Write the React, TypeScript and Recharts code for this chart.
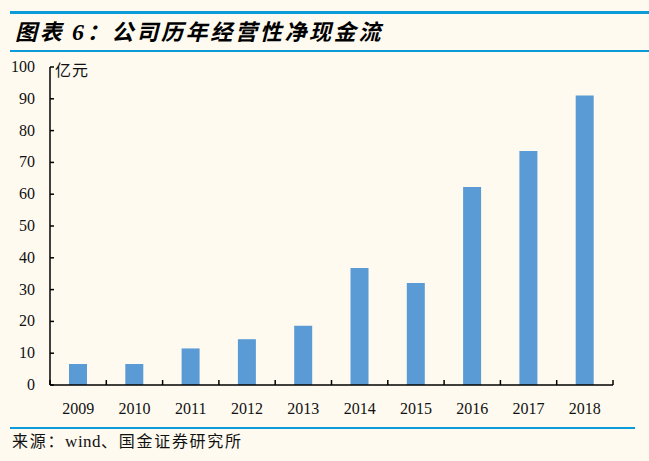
import React from "react";
import { BarChart, Bar, XAxis, YAxis } from "recharts";

const years = ["2009", "2010", "2011", "2012", "2013", "2014", "2015", "2016", "2017", "2018"];
const cashFlow = [6.6, 6.6, 11.5, 14.4, 18.6, 36.8, 32.1, 62.3, 73.6, 91.0];
const yTicks = [0, 10, 20, 30, 40, 50, 60, 70, 80, 90, 100];

const data = years.map((y, i) => ({ year: y, value: cashFlow[i] }));

const W = 649;
const H = 461;
const PLOT_LEFT = 50;
const PLOT_RIGHT = 613;
const PLOT_TOP = 67;
const PLOT_BOTTOM = 385;
const Y_AXIS_W = 40;
const X_AXIS_H = 30;
const BAND = (PLOT_RIGHT - PLOT_LEFT) / years.length;

const serif = "'Liberation Serif', 'Times New Roman', serif";
const cjk = "'Liberation Serif', 'Noto Sans CJK SC', serif";
const BG = "#FEFAF0";
const LINE = "#0A9BD8";

const XTick = (props: any) => {
  const { x, payload, index } = props;
  const axisY = PLOT_BOTTOM;
  const left = x - BAND / 2;
  const right = x + BAND / 2;
  return (
    <g>
      <line x1={left} x2={left} y1={axisY} y2={axisY - 5} stroke="#000" strokeWidth={1.5} />
      {index === years.length - 1 && (
        <line x1={right} x2={right} y1={axisY} y2={axisY - 5} stroke="#000" strokeWidth={1.5} />
      )}
      <text x={x} y={axisY + 29} textAnchor="middle" fontFamily={serif} fontSize={16} fill="#111">
        {payload.value}
      </text>
    </g>
  );
};

const YTick = (props: any) => {
  const { y, payload } = props;
  return (
    <g>
      <line x1={PLOT_LEFT} x2={PLOT_LEFT + 4} y1={y} y2={y} stroke="#000" strokeWidth={1.5} />
      <text x={PLOT_LEFT - 15} y={y + 5} textAnchor="end" fontFamily={serif} fontSize={16} fill="#111">
        {payload.value}
      </text>
    </g>
  );
};

export default function App() {
  return (
    <div
      style={{
        position: "absolute",
        left: 0,
        top: 0,
        width: W,
        height: H,
        background: BG,
        overflow: "hidden",
      }}
    >
      <div style={{ position: "absolute", left: 10, top: 11, width: W, height: 2.5, background: LINE }} />
      <div
        style={{
          position: "absolute",
          left: 15,
          top: 15,
          fontFamily: "'Noto Sans CJK SC', sans-serif",
          fontWeight: 700,
          fontStyle: "italic",
          fontSize: 22,
          letterSpacing: 2.7,
          lineHeight: "30px",
          color: "#000",
          whiteSpace: "nowrap",
        }}
      >
        图表 <span style={{ fontFamily: serif, fontSize: 24 }}>6</span>：公司历年经营性净现金流
      </div>
      <div style={{ position: "absolute", left: 10, top: 49.5, width: W, height: 2.5, background: LINE }} />

      <div style={{ position: "absolute", left: 0, top: 0 }}>
        <BarChart
          width={W}
          height={H}
          data={data}
          margin={{
            top: PLOT_TOP,
            bottom: H - PLOT_BOTTOM - X_AXIS_H,
            left: PLOT_LEFT - Y_AXIS_W,
            right: W - PLOT_RIGHT,
          }}
          barCategoryGap={19}
        >
          <XAxis
            dataKey="year"
            height={X_AXIS_H}
            axisLine={{ stroke: "#000", strokeWidth: 1.5 }}
            tickLine={false}
            tick={<XTick />}
            interval={0}
          />
          <YAxis
            width={Y_AXIS_W}
            domain={[0, 100]}
            ticks={yTicks}
            axisLine={{ stroke: "#000", strokeWidth: 1.5 }}
            tickLine={false}
            tick={<YTick />}
            interval={0}
          />
          <Bar dataKey="value" fill="#5B9BD5" isAnimationActive={false} />
        </BarChart>
      </div>

      <div
        style={{
          position: "absolute",
          left: 55,
          top: 57,
          fontFamily: cjk,
          fontSize: 16,
          letterSpacing: 1,
          color: "#111",
          whiteSpace: "nowrap",
        }}
      >
        亿元
      </div>

      <div style={{ position: "absolute", left: 10, top: 426.5, width: 625, height: 2.5, background: LINE }} />
      <div
        style={{
          position: "absolute",
          left: 12,
          top: 431,
          fontFamily: cjk,
          fontSize: 16,
          letterSpacing: 1.7,
          lineHeight: "22px",
          color: "#111",
          whiteSpace: "nowrap",
        }}
      >
        来源：<span style={{ fontSize: 17, letterSpacing: 0.5 }}>wind</span>、国金证券研究所
      </div>
    </div>
  );
}
